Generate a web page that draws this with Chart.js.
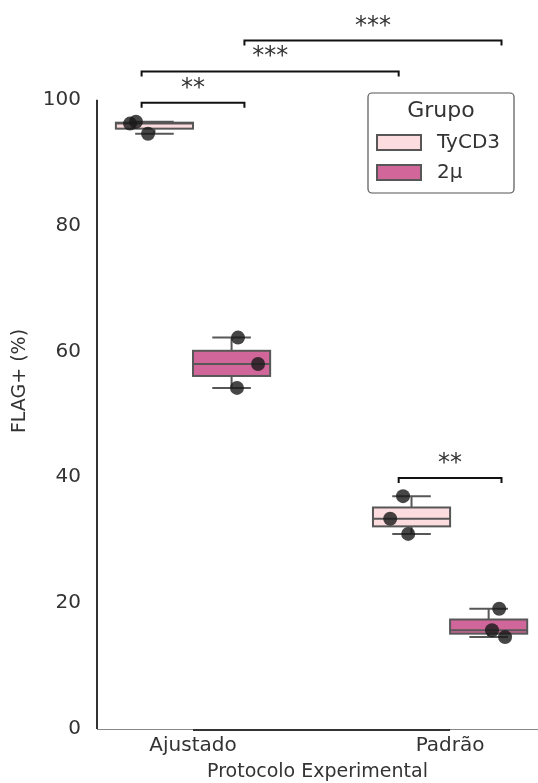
<!DOCTYPE html>
<html>
<head>
<meta charset="utf-8">
<script src="https://cdn.jsdelivr.net/npm/chart.js@4.4.0/dist/chart.umd.min.js"></script>
<style>
    html, body { margin: 0; padding: 0; background: #fff; }
</style>
</head>
<body>
<canvas id="chart" width="538" height="783"></canvas>
<script>
// Categories / groups
const protocols = ['Ajustado', 'Padrão'];
const groups = ['TyCD3', '2μ'];

// FLAG+ (%) replicates, one sub-list per protocol
const tycd3Values = [[96.2, 96.5, 94.6], [37.0, 33.4, 31.0]];
const twoMuValues = [[62.2, 58.0, 54.2], [19.1, 15.7, 14.6]];

// stripplot jitter, x position of each replicate (category units)
const tycd3PointX = [[-0.245, -0.222, -0.175], [0.817, 0.767, 0.837]];
const twoMuPointX = [[0.175, 0.253, 0.171], [1.191, 1.163, 1.214]];

// y-axis ticks
const yTicks = [0, 20, 40, 60, 80, 100];

// significance annotations: [x1, x2, y, label]
const sigBrackets = [
    [-0.2, 0.2, 99.5, '**'],
    [-0.2, 0.8, 104.5, '***'],
    [0.2, 1.2, 109.4, '***'],
    [0.8, 1.2, 39.9, '**']
];

const fillColors = ['#fcdcdf', '#d1669b'];
const edgeColor = '#575757';
const boxOffset = [-0.15, 0.15];
const boxWidth = 0.3;
const FONT = "'DejaVu Sans', sans-serif";

/**
 * Quantile with linear interpolation (numpy default)
 */
function quantile(sorted, q) {
    const pos = (sorted.length - 1) * q;
    const lo = Math.floor(pos);
    const hi = Math.ceil(pos);
    return sorted[lo] + (sorted[hi] - sorted[lo]) * (pos - lo);
}

function toPoints(values, xs) {
    const pts = [];
    values.forEach((list, i) => {
        list.forEach((v, j) => pts.push({ x: xs[i][j], y: v }));
    });
    return pts;
}

/**
 * Boxes drawn under the points, from the same values
 */
const boxPlugin = {
    id: 'boxes',
    beforeDatasetsDraw(chart) {
        const { ctx, scales: { x, y } } = chart;
        [tycd3Values, twoMuValues].forEach((series, g) => {
            series.forEach((list, i) => {
                const s = [...list].sort((a, b) => a - b);
                const q1 = quantile(s, 0.25);
                const med = quantile(s, 0.5);
                const q3 = quantile(s, 0.75);
                const iqr = q3 - q1;
                const lowW = s.find(v => v >= q1 - 1.5 * iqr);
                const highW = [...s].reverse().find(v => v <= q3 + 1.5 * iqr);

                const c = i + boxOffset[g];
                const xl = x.getPixelForValue(c - boxWidth / 2);
                const xr = x.getPixelForValue(c + boxWidth / 2);
                const xc = x.getPixelForValue(c);
                const capL = x.getPixelForValue(c - boxWidth / 4);
                const capR = x.getPixelForValue(c + boxWidth / 4);

                ctx.save();
                ctx.strokeStyle = edgeColor;
                ctx.lineWidth = 2;

                // whiskers + caps
                ctx.beginPath();
                ctx.moveTo(xc, y.getPixelForValue(q3));
                ctx.lineTo(xc, y.getPixelForValue(highW));
                ctx.moveTo(xc, y.getPixelForValue(q1));
                ctx.lineTo(xc, y.getPixelForValue(lowW));
                ctx.moveTo(capL, y.getPixelForValue(highW));
                ctx.lineTo(capR, y.getPixelForValue(highW));
                ctx.moveTo(capL, y.getPixelForValue(lowW));
                ctx.lineTo(capR, y.getPixelForValue(lowW));
                ctx.stroke();

                // box
                const yt = y.getPixelForValue(q3);
                const yb = y.getPixelForValue(q1);
                ctx.fillStyle = fillColors[g];
                ctx.fillRect(xl, yt, xr - xl, yb - yt);
                ctx.strokeRect(xl, yt, xr - xl, yb - yt);

                // median
                ctx.beginPath();
                ctx.moveTo(xl, y.getPixelForValue(med));
                ctx.lineTo(xr, y.getPixelForValue(med));
                ctx.stroke();
                ctx.restore();
            });
        });
    }
};

/**
 * Trimmed spines, brackets and legend
 */
const extrasPlugin = {
    id: 'extras',
    afterDraw(chart) {
        const { ctx, scales: { x, y }, chartArea } = chart;
        ctx.save();

        // trimmed spines (despine trim)
        ctx.strokeStyle = '#333';
        ctx.lineWidth = 2;
        ctx.beginPath();
        ctx.moveTo(chartArea.left, y.getPixelForValue(yTicks[yTicks.length - 1]));
        ctx.lineTo(chartArea.left, chartArea.bottom);
        ctx.moveTo(x.getPixelForValue(0), chartArea.bottom + 1);
        ctx.lineTo(x.getPixelForValue(protocols.length - 1), chartArea.bottom + 1);
        ctx.stroke();

        // significance brackets
        sigBrackets.forEach(([x1, x2, yv, label]) => {
            const px1 = x.getPixelForValue(x1);
            const px2 = x.getPixelForValue(x2);
            const py = y.getPixelForValue(yv);
            ctx.strokeStyle = '#111';
            ctx.lineWidth = 2;
            ctx.beginPath();
            ctx.moveTo(px1, py + 5);
            ctx.lineTo(px1, py);
            ctx.lineTo(px2, py);
            ctx.lineTo(px2, py + 5);
            ctx.stroke();
            ctx.fillStyle = '#333';
            ctx.font = '24px ' + FONT;
            ctx.textAlign = 'center';
            ctx.textBaseline = 'alphabetic';
            ctx.fillText(label, (px1 + px2) / 2, py - 8);
        });

        // legend
        const lx = 368, ly = 93, lw = 146, lh = 100;
        ctx.fillStyle = '#fff';
        ctx.strokeStyle = '#555';
        ctx.lineWidth = 1.2;
        ctx.beginPath();
        ctx.roundRect(lx, ly, lw, lh, 4);
        ctx.fill();
        ctx.stroke();

        ctx.fillStyle = '#333';
        ctx.font = '22px ' + FONT;
        ctx.textAlign = 'center';
        ctx.textBaseline = 'middle';
        ctx.fillText('Grupo', lx + lw / 2, ly + 18);

        ctx.font = '20px ' + FONT;
        groups.forEach((name, g) => {
            const sy = ly + 42 + g * 30;
            ctx.fillStyle = fillColors[g];
            ctx.strokeStyle = edgeColor;
            ctx.lineWidth = 2;
            ctx.fillRect(lx + 9, sy, 44, 15);
            ctx.strokeRect(lx + 9, sy, 44, 15);
            ctx.fillStyle = '#333';
            ctx.textAlign = 'left';
            ctx.fillText(name, lx + 69, sy + 8);
        });

        ctx.restore();
    }
};

const chart = new Chart(document.getElementById('chart'), {
    type: 'scatter',
    data: {
        datasets: [
            {
                label: groups[0],
                data: toPoints(tycd3Values, tycd3PointX),
                backgroundColor: 'rgba(24, 24, 24, 0.8)',
                borderWidth: 0,
                pointRadius: 7
            },
            {
                label: groups[1],
                data: toPoints(twoMuValues, twoMuPointX),
                backgroundColor: 'rgba(24, 24, 24, 0.8)',
                borderWidth: 0,
                pointRadius: 7
            }
        ]
    },
    options: {
        responsive: false,
        devicePixelRatio: 1,
        animation: false,
        layout: {
            autoPadding: false,
            padding: { top: 33, right: 0, left: 0, bottom: 0 }
        },
        plugins: {
            legend: { display: false },
            tooltip: { enabled: false }
        },
        scales: {
            x: {
                type: 'linear',
                min: -0.3735,
                max: 1.342,
                grid: { display: false, drawTicks: false },
                border: { display: true, color: '#888', width: 1 },
                afterBuildTicks: s => { s.ticks = protocols.map((_, i) => ({ value: i })); },
                afterFit: s => {
                    s.height = 54;
                    s.paddingLeft = 0;
                    s.paddingRight = 0;
                },
                ticks: {
                    autoSkip: false,
                    maxRotation: 0,
                    padding: 5,
                    color: '#333',
                    font: { family: FONT, size: 20 },
                    callback: v => protocols[v] ?? ''
                },
                title: {
                    display: true,
                    text: 'Protocolo Experimental',
                    color: '#333',
                    font: { family: FONT, size: 19 },
                    padding: { top: 0, bottom: 0 }
                }
            },
            y: {
                min: 0,
                max: 110.6,
                grid: { display: false, drawTicks: false },
                border: { display: false },
                afterBuildTicks: s => { s.ticks = yTicks.map(v => ({ value: v })); },
                afterFit: s => { s.width = 97; },
                ticks: {
                    padding: 16,
                    color: '#333',
                    font: { family: FONT, size: 20 }
                },
                title: {
                    display: true,
                    text: 'FLAG+ (%)',
                    color: '#333',
                    font: { family: FONT, size: 19 },
                    padding: { top: 9, bottom: 0 }
                }
            }
        }
    },
    plugins: [boxPlugin, extrasPlugin]
});
</script>
</body>
</html>
